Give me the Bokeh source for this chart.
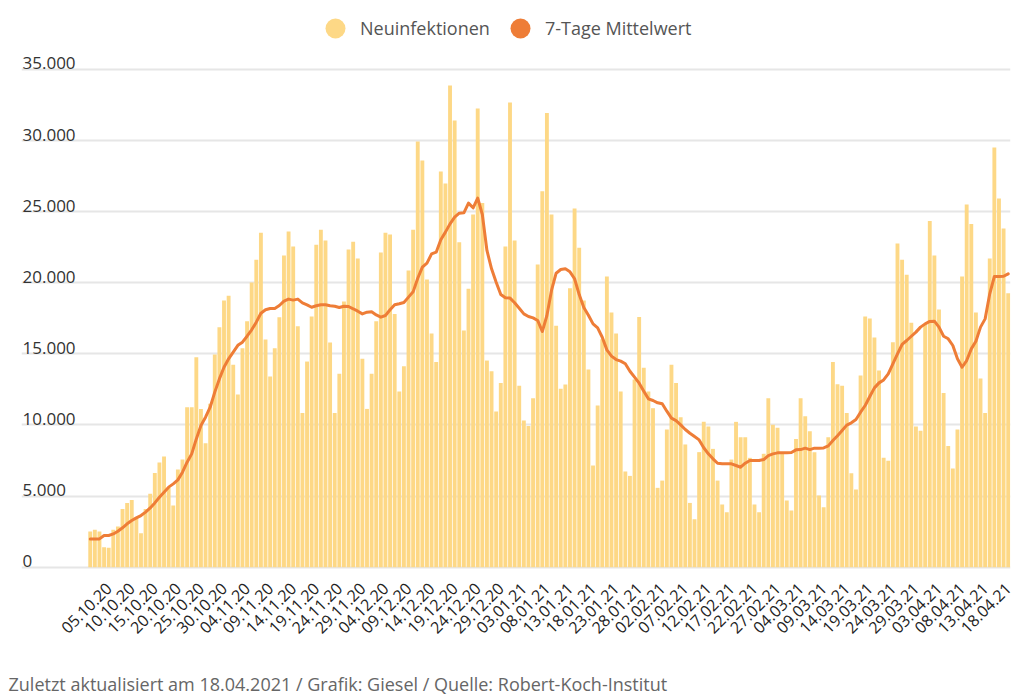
import pandas as pd
from math import pi
from bokeh.plotting import figure
from bokeh.layouts import column
from bokeh.models import FixedTicker, Legend, LegendItem
from bokeh.core.properties import value
from bokeh.embed import file_html
from bokeh.resources import INLINE

# ---------------- data ----------------
start_date = "2020-10-01"
end_date = "2021-04-18"

neuinfektionen = [
    2510, 2630, 2510, 1400, 1360, 2630, 2860, 4100, 4520, 4730,
    3480, 2390, 4100, 5160, 6630, 7360, 7780, 5590, 4340, 6870,
    7570, 11250, 11250, 14770, 11130, 8720, 11490, 14960, 16880, 18750,
    19080, 14230, 12140, 15400, 17300, 20020, 21610, 23510, 16010, 13410,
    15400, 17580, 21920, 23600, 22550, 16950, 10850, 14460, 17630, 22670,
    23720, 22970, 15800, 10850, 13600, 18680, 22340, 22880, 21710, 14650,
    11130, 13600, 17300, 22130, 23510, 23390, 17810, 12350, 14130, 20860,
    23720, 29930, 28600, 20230, 16430, 14420, 27820, 26980, 33870, 31410,
    22850, 16640, 19570, 24800, 32250, 25600, 14530, 13780, 10950, 12960,
    22550, 32680, 22970, 12750, 10310, 9920, 11880, 21280, 26440, 31930,
    24800, 16970, 12540, 12850, 19620, 25220, 22460, 18750, 13900, 7150,
    11370, 16030, 20440, 17910, 16430, 12350, 6730, 6420, 13200, 17600,
    14020, 12350, 11180, 5580, 6090, 9680, 14230, 12960, 10550, 8630,
    4520, 3380, 8090, 10220, 9890, 8320, 6090, 4410, 3870, 7570,
    10220, 9140, 9140, 7690, 4410, 3870, 7970, 11880, 10010, 9800,
    8090, 4690, 3990, 9020, 11880, 10620, 9560, 8090, 5040, 4220,
    9140, 14420, 12870, 12750, 10850, 6610, 5460, 13480, 17630, 17490,
    16150, 13830, 7690, 7480, 15820, 22760, 21610, 20560, 17180, 9890,
    9590, 17050, 24350, 21920, 18120, 12240, 8530, 6940, 9680, 20440,
    25500, 24140, 17910, 13270, 10850, 21710, 29510, 25930, 23820, 19270,
]

mittelwert = [
    1990, 1990, 1990, 2230, 2230, 2340, 2530, 2770, 3050, 3280,
    3470, 3630, 3870, 4170, 4520, 4920, 5270, 5630, 5860, 6140,
    6680, 7380, 7970, 9020, 9960, 10550, 11250, 12310, 13240, 14060,
    14650, 15120, 15600, 15820, 16240, 16690, 17230, 17860, 18100, 18190,
    18190, 18400, 18710, 18850, 18780, 18850, 18590, 18450, 18280, 18380,
    18450, 18450, 18380, 18350, 18260, 18350, 18330, 18170, 18000, 17810,
    17930, 17960, 17740, 17580, 17700, 18100, 18450, 18520, 18610, 18990,
    19360, 20320, 21100, 21380, 22030, 22150, 23020, 23560, 24140, 24610,
    24890, 24920, 25600, 25270, 25950, 24800, 22270, 20980, 20040, 19170,
    18940, 18920, 18590, 18210, 17810, 17630, 17530, 17350, 16570, 17700,
    19460, 20670, 20930, 20980, 20770, 20280, 19170, 18260, 17720, 17110,
    16830, 16170, 15280, 14840, 14600, 14490, 14300, 13780, 13360, 12940,
    12380, 11840, 11720, 11560, 11490, 10970, 10480, 10310, 10010, 9680,
    9420, 9190, 8950, 8400, 7970, 7620, 7310, 7270, 7270, 7270,
    7150, 7030, 7310, 7500, 7500, 7500, 7570, 7850, 7970, 8040,
    8040, 8040, 8060, 8250, 8270, 8370, 8270, 8370, 8370, 8390,
    8530, 8910, 9240, 9610, 9990, 10150, 10380, 10900, 11370, 12000,
    12610, 12960, 13170, 13600, 14300, 15000, 15660, 15940, 16240, 16530,
    16880, 17110, 17280, 17300, 16880, 16240, 16060, 15590, 14650, 14060,
    14530, 15350, 15890, 16880, 17460, 19220, 20440, 20440, 20460, 20630,
]

tick_labels = [
    "05.10.20", "10.10.20", "15.10.20", "20.10.20", "25.10.20", "30.10.20",
    "04.11.20", "09.11.20", "14.11.20", "19.11.20", "24.11.20", "29.11.20",
    "04.12.20", "09.12.20", "14.12.20", "19.12.20", "24.12.20", "29.12.20",
    "03.01.21", "08.01.21", "13.01.21", "18.01.21", "23.01.21", "28.01.21",
    "02.02.21", "07.02.21", "12.02.21", "17.02.21", "22.02.21", "27.02.21",
    "04.03.21", "09.03.21", "14.03.21", "19.03.21", "24.03.21", "29.03.21",
    "03.04.21", "08.04.21", "13.04.21", "18.04.21",
]

y_ticks = [0, 5000, 10000, 15000, 20000, 25000, 30000, 35000]
y_labels = ["0", "5.000", "10.000", "15.000", "20.000", "25.000", "30.000", "35.000"]

legend_labels = ["Neuinfektionen", "7-Tage Mittelwert"]
footer_text = "Zuletzt aktualisiert am 18.04.2021 / Grafik: Giesel / Quelle: Robert-Koch-Institut"

# ---------------- derived ----------------
dates = pd.date_range(start_date, end_date, freq="D")
date_str = [d.strftime("%d.%m.%y") for d in dates]
idx = list(range(len(dates)))
tick_pos = [date_str.index(t) for t in tick_labels]

YELLOW = "#FDD886"
ORANGE = "#EE7D37"
FONT = "Open Sans"

X_START, X_END = -14.9, 199.5
Y_START, Y_END = -302, 39846

chart = figure(
    width=1023, height=655,
    x_range=(X_START, X_END), y_range=(Y_START, Y_END),
    output_backend="svg", toolbar_location=None,
    min_border_left=21, min_border_right=13,
    min_border_top=0, min_border_bottom=84,
    background_fill_color="white", border_fill_color="white",
)
chart.outline_line_color = None

# grid
chart.xgrid.visible = False
chart.ygrid.ticker = FixedTicker(ticks=y_ticks)
chart.ygrid.grid_line_color = "#e6e6e6"
chart.ygrid.grid_line_width = 2
chart.yaxis.visible = False

# bars + line
chart.vbar(x=idx, top=neuinfektionen, width=0.84, fill_color=YELLOW, line_color=None)
chart.line(idx, mittelwert, line_width=3, line_color=ORANGE, line_join="round", line_cap="round")

# y labels above gridlines
chart.text(x=[X_START] * len(y_ticks), y=y_ticks, text=y_labels,
           text_font=value(FONT), text_font_size="17px", text_color="#333333",
           text_baseline="alphabetic", text_align="left", x_offset=1, y_offset=-6)

# x axis
chart.xaxis.ticker = FixedTicker(ticks=tick_pos)
chart.xaxis.major_label_overrides = {pos: lab for pos, lab in zip(tick_pos, tick_labels)}
chart.xaxis.major_label_orientation = pi / 4
chart.xaxis.major_label_text_font = FONT
chart.xaxis.major_label_text_font_size = "16px"
chart.xaxis.major_label_text_color = "#222222"
chart.xaxis.axis_line_color = None
chart.xaxis.major_tick_line_color = None
chart.xaxis.minor_tick_line_color = None
chart.xaxis.major_tick_out = 0
chart.xaxis.major_tick_in = 0
chart.xaxis.minor_tick_out = 0
chart.xaxis.major_label_standoff = 14

# legend (inside the frame, at its top)
nan = float("nan")
r1 = chart.scatter(x=[nan], y=[nan], marker="circle", size=20, fill_color=YELLOW, line_color=None)
r2 = chart.scatter(x=[nan], y=[nan], marker="circle", size=20, fill_color=ORANGE, line_color=None)
legend = Legend(
    items=[LegendItem(label=legend_labels[0], renderers=[r1]),
           LegendItem(label=legend_labels[1], renderers=[r2])],
    location=(289, 518), orientation="horizontal",
    glyph_width=50, glyph_height=50, label_standoff=0, spacing=5,
    padding=0, margin=0, border_line_color=None, background_fill_alpha=0,
    label_text_font=FONT, label_text_font_size="18px", label_text_color="#555555",
)
chart.add_layout(legend)

# footer strip (no axes at all, frame = whole strip)
foot = figure(
    width=1023, height=40, x_range=(0, 1023), y_range=(0, 40),
    x_axis_location=None, y_axis_location=None,
    output_backend="svg", toolbar_location=None,
    min_border=0, min_border_left=0, min_border_right=0,
    min_border_top=0, min_border_bottom=0,
    background_fill_color="white", border_fill_color="white",
)
foot.outline_line_color = None
foot.grid.visible = False
foot.text(x=[8], y=[12], text=[footer_text],
          text_font=value(FONT), text_font_size="18px", text_color="#666666",
          text_baseline="middle", text_align="left")

# keep each figure's own frame (no frame alignment between the two)
for fig in (chart, foot):
    if "frame_align" in fig.properties():
        fig.frame_align = False

p = column(chart, foot, spacing=0)

open("out.html", "w").write(file_html(p, INLINE))
